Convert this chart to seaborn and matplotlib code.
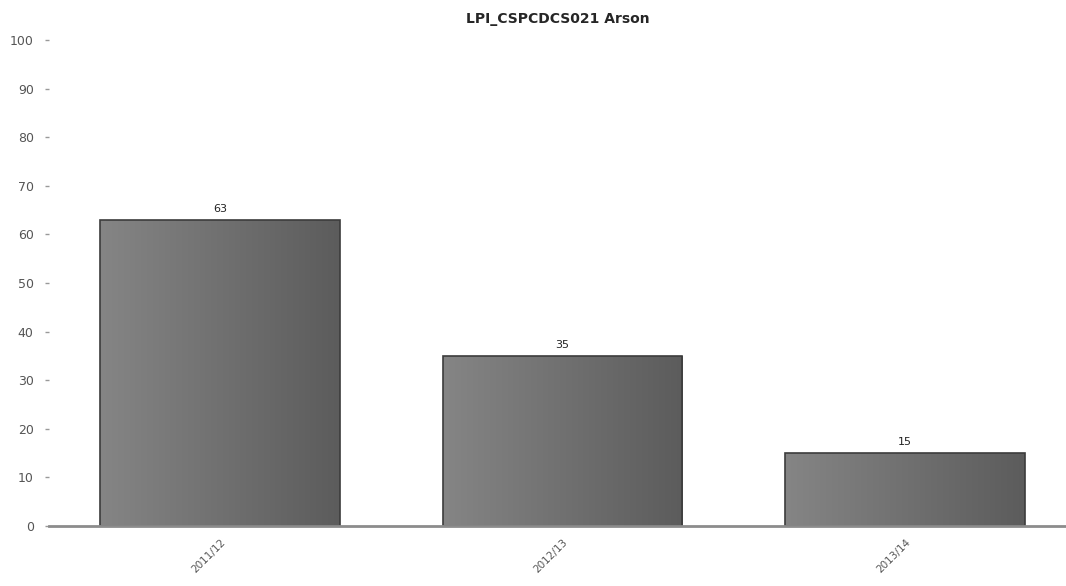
import numpy as np
import pandas as pd
import matplotlib
matplotlib.use("Agg")
import matplotlib.pyplot as plt
import seaborn as sns

# data
years = ["2011/12", "2012/13", "2013/14"]
counts = [63, 35, 15]
title = "LPI_CSPCDCS021 Arson"

df = pd.DataFrame({"year": years, "count": counts})

sns.set_style("white")
plt.rcParams['font.family'] = ['DejaVu Sans']

fig = plt.figure(figsize=(10.66, 5.86), dpi=100)
ax = fig.add_axes([49 / 1066, 60 / 586, 1017 / 1066, 486 / 586])

sns.barplot(data=df, x="year", y="count", color="#707070", width=0.70,
            edgecolor="#3c3c3c", linewidth=1.2, ax=ax)

# horizontal gradient inside each bar (light left, dark right)
grad = np.linspace(0, 1, 256).reshape(1, -1)
cmap = matplotlib.colors.LinearSegmentedColormap.from_list("g", ["#858585", "#5c5c5c"])
for patch in ax.patches:
    x0, y0 = patch.get_x(), patch.get_y()
    w, h = patch.get_width(), patch.get_height()
    im = ax.imshow(grad, cmap=cmap, aspect="auto", extent=[x0, x0 + w, y0, y0 + h],
                   zorder=patch.get_zorder() - 0.1)
    im.set_clip_path(patch)
    patch.set_facecolor("none")
    ax.text(x0 + w / 2, y0 + h + 1.2, f"{int(h)}", ha="center", va="bottom",
            fontsize=8, color="#222222")

ax.set_xlim(-0.5, 2.47)
ax.set_ylim(0, 100)
ax.set_yticks(range(0, 101, 10))
ax.set_xlabel("")
ax.set_ylabel("")
ax.set_title(title, fontsize=10, fontweight="bold", pad=12)

for s in ["top", "right", "left"]:
    ax.spines[s].set_visible(False)
ax.spines["bottom"].set_color("#8c8c8c")
ax.spines["bottom"].set_linewidth(2)

ax.tick_params(axis="y", length=3, width=1, color="#999999", pad=8,
               labelsize=9, labelcolor="#555555", left=True)
ax.tick_params(axis="x", length=0, pad=8, labelsize=7.5, labelcolor="#555555")
plt.setp(ax.get_xticklabels(), rotation=45, ha="right", rotation_mode="anchor")

fig.savefig("out.png", dpi=100)
